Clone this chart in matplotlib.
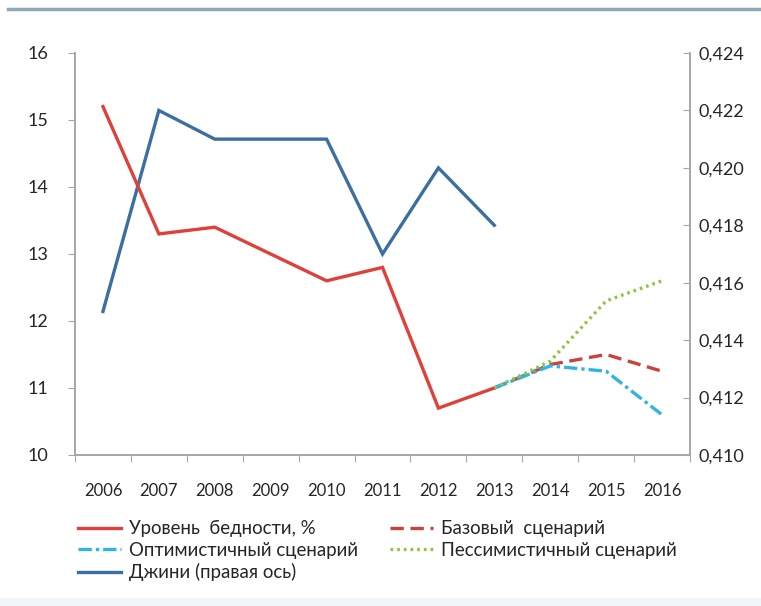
import matplotlib
matplotlib.use("Agg")
import matplotlib.pyplot as plt
from matplotlib.lines import Line2D
from matplotlib.patches import Rectangle

plt.rcParams['font.family'] = ['Lato', 'Open Sans', 'DejaVu Sans']

years = ['2006', '2007', '2008', '2009', '2010', '2011', '2012', '2013', '2014', '2015', '2016']
poverty = [15.2, 13.3, 13.4, 13.0, 12.6, 12.8, 10.7, 11.0]
base = [11.0, 11.35, 11.5, 11.25]
optimistic = [11.0, 11.33, 11.25, 10.6]
pessimistic = [11.0, 11.4, 12.3, 12.6]
gini = [0.415, 0.422, 0.421, 0.421, 0.421, 0.417, 0.420, 0.418]

left_ticks = [10, 11, 12, 13, 14, 15, 16]
right_ticks = [0.410, 0.412, 0.414, 0.416, 0.418, 0.420, 0.422, 0.424]

lbl_poverty = 'Уровень  бедности, %'
lbl_base = 'Базовый  сценарий'
lbl_opt = 'Оптимистичный сценарий'
lbl_pess = 'Пессимистичный сценарий'
lbl_gini = 'Джини (правая ось)'

RED = '#E0403A'
BASE_RED = '#C8423E'
CYAN = '#2FB5E3'
GREEN = '#8CC63F'
BLUE = '#3B6FA2'
TXT = '#262626'
SPINE = '#A6A6A6'

fig = plt.figure(figsize=(7.61, 6.06), dpi=100)
fig.patch.set_facecolor('white')

# top border line and bottom band
fig.add_artist(Line2D([8/761, 1], [1-9/606, 1-9/606], color='#8FA8B8', lw=2.5,
                      transform=fig.transFigure))
fig.add_artist(Rectangle((0, 0), 1, 8/606, transform=fig.transFigure,
                         color='#F1F6FA', lw=0))

ax = fig.add_axes([75/761, 1-455/606, (690-75)/761, (455-53)/606])
ax2 = ax.twinx()

x_all = list(range(len(years)))
n_hist = len(poverty)
x_hist = x_all[:n_hist]
x_scen = x_all[n_hist-1:]

lw = 2.4
g, = ax2.plot(x_hist, gini, color=BLUE, lw=lw, solid_joinstyle='miter', zorder=3)
p, = ax.plot(x_hist, poverty, color=RED, lw=lw, solid_joinstyle='miter', zorder=3)
b, = ax.plot(x_scen, base, color=BASE_RED, lw=lw, ls=(0, (4, 2)), zorder=3)
o, = ax.plot(x_scen, optimistic, color=CYAN, lw=lw, ls=(0, (4, 1.2, 1, 1.2)), zorder=4)
s, = ax.plot(x_scen, pessimistic, color=GREEN, lw=lw, ls=(0, (0.8, 1.2)), zorder=5)

ax.set_zorder(ax2.get_zorder() + 1)
ax.patch.set_visible(False)

ax.set_xlim(-0.5, len(years) - 0.5)
ax.set_ylim(10, 16)
ax2.set_ylim(0.410, 0.424)

ax.set_yticks(left_ticks)
ax.set_yticklabels([str(t) for t in left_ticks])
ax2.set_yticks(right_ticks)
ax2.set_yticklabels([f'{t:.3f}'.replace('.', ',') for t in right_ticks])

ax.set_xticks([i - 0.5 for i in range(len(years) + 1)])
ax.set_xticklabels([])
ax.set_xticks(x_all, minor=True)
ax.set_xticklabels(years, minor=True)
ax.tick_params(axis='x', which='major', length=5, color=SPINE, direction='out')
ax.tick_params(axis='x', which='minor', length=0, pad=20, labelsize=12, labelcolor=TXT)
ax.tick_params(axis='y', length=5, color=SPINE, direction='out', labelsize=13,
               labelcolor=TXT, pad=14)
ax2.tick_params(axis='y', length=5, color=SPINE, direction='in', labelsize=13,
                labelcolor=TXT, pad=6)

for a in (ax, ax2):
    a.spines['top'].set_visible(False)
    for sp in ('left', 'right', 'bottom'):
        a.spines[sp].set_color(SPINE)
        a.spines[sp].set_linewidth(1.2)

# column-major fill: col1 = poverty, optimistic, gini; col2 = base, pessimistic
leg = fig.legend([p, o, g, b, s], [lbl_poverty, lbl_opt, lbl_gini, lbl_base, lbl_pess],
                 loc='upper left', bbox_to_anchor=(78/761, 1-520/606), ncol=2,
                 frameon=False, fontsize=13.4, handlelength=2.3, handletextpad=0.45,
                 columnspacing=1.7, labelspacing=0.25, borderaxespad=0,
                 borderpad=0)
for t in leg.get_texts():
    t.set_color(TXT)

fig.savefig('out.png', dpi=100, facecolor='white')
